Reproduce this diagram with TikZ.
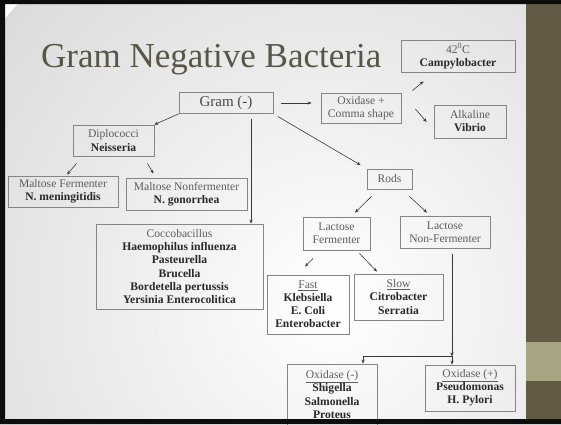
\documentclass[tikz,border=0pt]{standalone}
\usepackage{fontspec}
\setmainfont{Liberation Serif}
\definecolor{frame_c}{rgb}{
	0.05, 0.05, 0.05
	}
\definecolor{panel_c}{rgb}{
	0.384, 0.353, 0.271
	}
\definecolor{band_c}{rgb}{
	0.659, 0.647, 0.510
	}
\definecolor{title_c}{rgb}{
	0.345, 0.337, 0.275
	}
\definecolor{lbl_c}{rgb}{
	0.36, 0.36, 0.36
	}
\definecolor{name_c}{rgb}{
	0.16, 0.16, 0.16
	}
\definecolor{edge_c}{rgb}{
	0.52, 0.52, 0.52
	}
\definecolor{link_c}{rgb}{
	0.22, 0.22, 0.22
	}
\usepackage{tikz}
\usetikzlibrary{arrows.meta,
                calc}
\newcommand{\lbl}[1]{{\color{lbl_c}#1}}

\begin{document}
\begin{tikzpicture}[
			x=1pt, y=-1pt,
			box/.style = {draw=edge_c, line width=0.8pt, align=center, inner sep=1pt,
				text=name_c, font=\fontsize{11.6}{13.1}\selectfont},
			link/.style = {draw=link_c, line width=0.6pt, -{Stealth[length=4pt,width=3.2pt]}},
			]
			\useasboundingbox (0,0) rectangle (561,424);
			% slide
			\begin{scope}
			\clip (0,0) rectangle (561,424);
			\fill[white] (0,0) rectangle (561,424);
			\shade[inner color=white, outer color=black!14] (330,300) circle (430);
			\end{scope}
			\fill[panel_c] (526,0) rectangle (561,424);
			\fill[band_c] (526,342) rectangle (561,381);
			\node[anchor=base west, inner sep=0, text=title_c,
				font=\fontsize{35}{40}\selectfont] (title) at (41,67) {Gram Negative Bacteria};
			% boxes
			\node[box, minimum width=94pt, minimum height=21pt, text=black!72,
				font=\fontsize{15}{17}\selectfont] (gram) at (226,103) {Gram (-)};
			\node[box, minimum width=114pt, minimum height=32pt] (camp) at (458,56)
				{\lbl{42\textsuperscript{0}C}\\ \textbf{Campylobacter}};
			\node[box, minimum width=80pt, minimum height=30pt] (oxid) at (361,108)
				{\lbl{Oxidase +}\\ \lbl{Comma shape}};
			\node[box, minimum width=72pt, minimum height=33pt] (vibrio) at (470,121.5)
				{\lbl{Alkaline}\\ \textbf{Vibrio}};
			\node[box, minimum width=81pt, minimum height=31pt] (dipl) at (113.5,140.5)
				{\lbl{Diplococci}\\ \textbf{Neisseria}};
			\node[box, minimum width=110pt, minimum height=31pt] (maltf) at (63,191.5)
				{\lbl{Maltose Fermenter}\\ \textbf{N. meningitidis}};
			\node[box, minimum width=121pt, minimum height=32pt] (maltn) at (186.5,194)
				{\lbl{Maltose Nonfermenter}\\ \textbf{N. gonorrhea}};
			\node[box, minimum width=167pt, minimum height=85pt] (cocco) at (179.5,266.5)
				{\lbl{Coccobacillus}\\ \textbf{Haemophilus influenza}\\ \textbf{Pasteurella}\\
				 \textbf{Brucella}\\ \textbf{Bordetella pertussis}\\ \textbf{Yersinia Enterocolitica}};
			\node[box, minimum width=45pt, minimum height=20pt] (rods) at (389.5,179) {\lbl{Rods}};
			\node[box, minimum width=67pt, minimum height=33pt] (lacf) at (336.5,233.5)
				{\lbl{Lactose}\\ \lbl{Fermenter}};
			\node[box, minimum width=90pt, minimum height=32pt] (lacn) at (445,232)
				{\lbl{Lactose}\\ \lbl{Non-Fermenter}};
			\node[box, minimum width=82pt, minimum height=59pt] (fast) at (308,304.5)
				{\lbl{\underline{Fast}}\\ \textbf{Klebsiella}\\ \textbf{E. Coli}\\ \textbf{Enterobacter}};
			\node[box, minimum width=89pt, minimum height=46pt] (slow) at (398.5,297)
				{\lbl{\underline{Slow}}\\ \textbf{Citrobacter}\\ \textbf{Serratia}};
			\node[box, minimum width=90pt, minimum height=61pt] (oxneg) at (332,394.5)
				{\lbl{\underline{Oxidase (-)}}\\ \textbf{Shigella}\\ \textbf{Salmonella}\\ \textbf{Proteus}};
			\node[box, minimum width=90pt, minimum height=46pt] (oxpos) at (470,388)
				{\lbl{\underline{Oxidase (+)}}\\ \textbf{Pseudomonas}\\ \textbf{H. Pylori}};
			\coordinate (split) at ($(lacn.south)+(7,108)$);
			% edges
			\draw[link] (gram.south west) -- (dipl.north east);
			\draw[link] ([shift={(25,5)}]gram.south) -- ([xshift=25pt]gram.south |- cocco.north);
			\draw[link, shorten <=5pt, shorten >=7pt] (gram.south east) -- (rods.north west);
			\draw[link, shorten <=8pt, shorten >=9pt] (gram.east) -- (gram.east -| oxid.west);
			\draw[link] ([shift={(11,-2)}]oxid.north east) -- ([shift={(23,9)}]camp.south west);
			\draw[link] ([shift={(14,1)}]oxid.east) -- ([shift={(-7,0.5)}]vibrio.west);
			\draw[link] ([shift={(-37,7)}]dipl.south) -- ([shift={(4,-1)}]maltf.north);
			\draw[link] ([shift={(-7,7)}]dipl.south east) -- ([shift={(-33,-4)}]maltn.north);
			\draw[link] ([shift={(-18,7)}]rods.south) -- ([shift={(18.5,-4)}]lacf.north);
			\draw[link] ([shift={(-3,7)}]rods.south east) -- ([shift={(-18,-3)}]lacn.north);
			\draw[link] ([shift={(-23.5,8)}]lacf.south) -- ([shift={(-3,-8)}]fast.north);
			\draw[link] ([shift={(-11,3)}]lacf.south east) -- ([shift={(-21.5,-2)}]slow.north);
			\draw[link] ([shift={(7,6)}]lacn.south) -- (split);
			\draw[link] (split) -- (split |- oxpos.north);
			\draw[link] (split) -| ([xshift=31pt]oxneg.north);
			% frame
			\fill[frame_c, even odd rule] (0,0) rectangle (561,424) (5,4) rectangle (562,419);
		\end{tikzpicture}
\end{document}
